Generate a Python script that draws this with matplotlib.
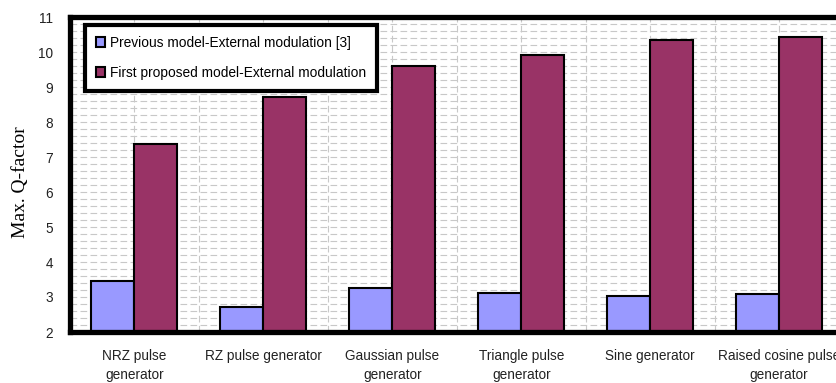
import numpy as np
import matplotlib
matplotlib.use('Agg')
import matplotlib.pyplot as plt

categories = ["NRZ pulse\ngenerator", "RZ pulse generator", "Gaussian pulse\ngenerator",
              "Triangle pulse\ngenerator", "Sine generator", "Raised cosine pulse\ngenerator"]
previous = [3.46, 2.71, 3.27, 3.12, 3.03, 3.08]
proposed = [7.38, 8.72, 9.61, 9.91, 10.33, 10.42]
labels = ["Previous model-External modulation [3]", "First proposed model-External modulation"]

plt.rcParams['font.family'] = 'Liberation Sans'

fig = plt.figure(figsize=(8.36, 3.83), dpi=100)
ax = fig.add_axes([70 / 836, 51 / 383, 773.5 / 836, 315 / 383])

x = np.arange(len(categories))
w = 1 / 3
ax.bar(x - w / 2, previous, w, color='#9999FF', edgecolor='black', linewidth=1.5,
       label=labels[0], zorder=3)
ax.bar(x + w / 2, proposed, w, color='#993366', edgecolor='black', linewidth=1.5,
       label=labels[1], zorder=3)

ax.set_xlim(-0.5, len(categories) - 0.5)
ax.set_ylim(2, 11)
ax.set_yticks(range(2, 12))
ax.set_yticks(np.arange(2, 11.01, 0.2), minor=True)
ax.set_xticks(x)
ax.set_xticklabels(categories, fontsize=9.8, color='#222222', linespacing=1.45)
ax.tick_params(axis='y', labelsize=9.8, labelcolor='#222222')
ax.tick_params(which='both', length=0)
ax.tick_params(axis='x', pad=12)
ax.tick_params(axis='y', pad=12)

# dashed grid behind the bars
ax.grid(True, axis='y', which='both', color='#c8c8c8', linestyle=(0, (6, 3)), linewidth=0.8, zorder=0)
for xv in np.arange(0, len(categories), 0.5):
    ax.axvline(xv, color='#c8c8c8', linestyle=(0, (6, 3)), linewidth=0.8, zorder=0)

for s in ['left', 'top', 'bottom']:
    ax.spines[s].set_linewidth(3.8)
    ax.spines[s].set_zorder(5)
ax.spines['right'].set_visible(False)

ax.set_ylabel('Max. Q-factor', fontsize=14, family='Liberation Serif')
ax.yaxis.set_label_coords(-0.053, 0.476)

leg = ax.legend(loc='upper left', bbox_to_anchor=(0.02, 0.975), fontsize=9.9, fancybox=False,
                edgecolor='black', framealpha=1, handlelength=0.65, handleheight=0.75,
                handletextpad=0.3, labelspacing=1.15, borderpad=0.8, borderaxespad=0)
leg.get_frame().set_linewidth(3)

fig.savefig('out.png', dpi=100)
